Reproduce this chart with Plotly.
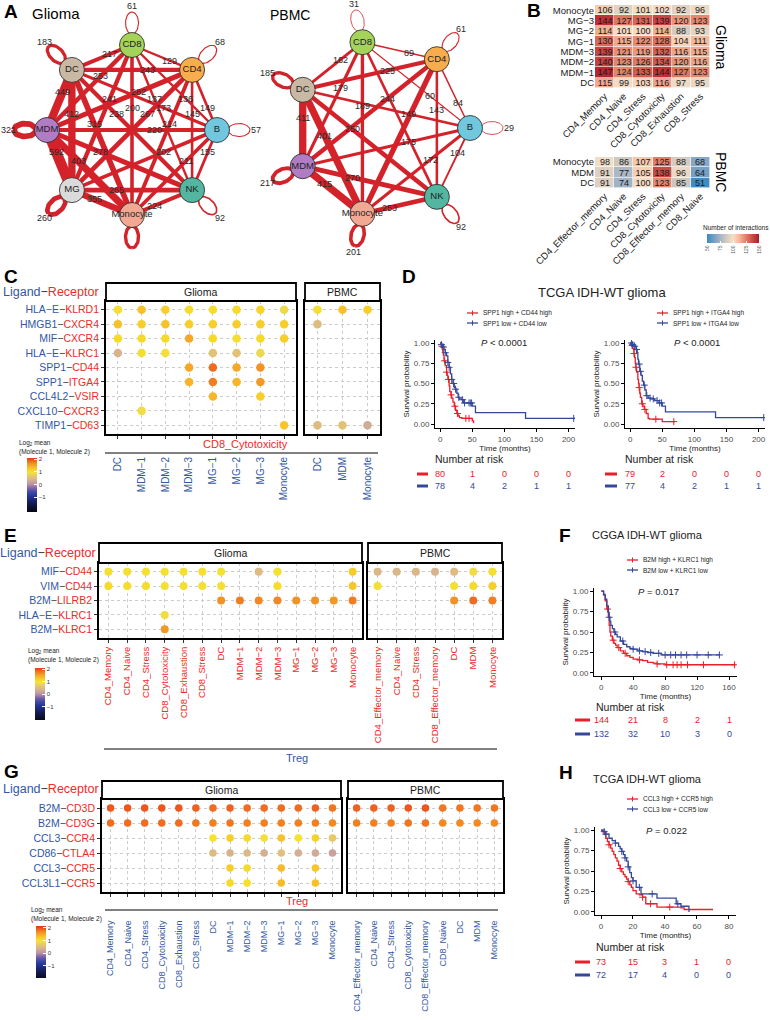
import numpy as np
import plotly.graph_objects as go

W, H = 770, 1020
FONT = "Liberation Sans, Arial, sans-serif"
TXT_BLUE = "#3157a6"
TXT_RED = "#ee2b24"
EDGE_RED = "#d3222a"
KM_RED = "#e8202a"
KM_BLUE = "#34489a"
N = None

# ======================= DATA =======================
# (A) interaction networks
glioma_nodes = ["CD8", "CD4", "B", "NK", "Monocyte", "MG", "MDM", "DC"]
glioma_edge_src = ["CD8", "CD4", "CD4", "B", "CD4", "CD8", "CD8", "B", "DC", "DC", "CD8", "DC", "CD4", "CD8",
                   "CD4", "B", "CD4", "DC", "B", "MDM", "MDM", "B", "B", "MDM", "B", "MG", "MG", "Monocyte"]
glioma_edge_tgt = ["DC", "CD8", "DC", "DC", "MDM", "MG", "NK", "CD4", "MDM", "MG", "Monocyte", "NK", "MG", "MDM",
                   "Monocyte", "CD8", "NK", "Monocyte", "MDM", "MG", "NK", "MG", "NK", "Monocyte", "Monocyte", "NK",
                   "Monocyte", "NK"]
glioma_edge_n = [217, 129, 243, 173, 282, 241, 137, 149, 449, 412, 200, 238, 267, 253,
                 214, 136, 145, 315, 220, 592, 278, 202, 155, 403, 211, 265, 355, 224]
glioma_edge_show = [True] * 28
glioma_self_n = [61, 68, 57, 92, 190, 260, 321, 183]
glioma_self_show = [True, True, True, True, False, True, True, True]

pbmc_nodes = ["CD8", "CD4", "B", "NK", "Monocyte", "MDM", "DC"]
pbmc_edge_src = ["CD8", "CD4", "CD4", "CD8", "CD4", "B", "B", "CD8", "CD4", "B", "DC", "DC", "DC", "B", "B", "B",
                 "MDM", "MDM", "Monocyte", "CD8", "CD4"]
pbmc_edge_tgt = ["DC", "CD8", "DC", "MDM", "MDM", "CD8", "CD4", "Monocyte", "NK", "DC", "MDM", "Monocyte", "NK",
                 "MDM", "Monocyte", "NK", "NK", "Monocyte", "NK", "NK", "Monocyte"]
pbmc_edge_n = [162, 89, 225, 179, 244, 60, 84, 189, 143, 149, 411, 401, 250, 175, 172, 104, 270, 415, 253, 150, 300]
pbmc_edge_show = [True] * 19 + [False, False]
pbmc_self_n = [31, 61, 29, 92, 201, 217, 185]
pbmc_self_show = [True] * 7

node_color = {"CD8": "#a4d35a", "CD4": "#f8ac4d", "B": "#70c7de", "NK": "#52b6a0",
              "Monocyte": "#f2a893", "MG": "#dadada", "MDM": "#b07dc4", "DC": "#c8b8a4"}

# (B) heatmaps: number of interactions
hm_glioma_rows = ["Monocyte", "MG−3", "MG−2", "MG−1", "MDM−3", "MDM−2", "MDM−1", "DC"]
hm_glioma_cols = ["CD4_Memory", "CD4_Naive", "CD4_Stress", "CD8_Cytotoxicity", "CD8_Exhaustion", "CD8_Stress"]
hm_glioma = [
    [106, 92, 101, 102, 92, 96],
    [144, 127, 131, 139, 120, 123],
    [114, 101, 100, 114, 88, 93],
    [130, 115, 122, 128, 104, 111],
    [139, 121, 119, 132, 116, 115],
    [140, 123, 126, 134, 120, 116],
    [147, 124, 133, 144, 127, 123],
    [115, 99, 103, 116, 97, 95],
]
hm_pbmc_rows = ["Monocyte", "MDM", "DC"]
hm_pbmc_cols = ["CD4_Effector_memory", "CD4_Naive", "CD4_Stress", "CD8_Cytotoxicity", "CD8_Effector_memory", "CD8_Naive"]
hm_pbmc = [
    [98, 86, 107, 125, 88, 68],
    [91, 77, 105, 138, 96, 64],
    [91, 74, 100, 123, 85, 51],
]

# (C) dot plot, receptor cell CD8_Cytotoxicity
c_lig = ["HLA−E", "HMGB1", "MIF", "HLA−E", "SPP1", "SPP1", "CCL4L2", "CXCL10", "TIMP1"]
c_rec = ["KLRD1", "CXCR4", "CXCR4", "KLRC1", "CD44", "ITGA4", "VSIR", "CXCR3", "CD63"]
c_glioma_cols = ["DC", "MDM−1", "MDM−2", "MDM−3", "MG−1", "MG−2", "MG−3", "Monocyte"]
c_pbmc_cols = ["DC", "MDM", "Monocyte"]
c_glioma = [
    [1.0, 1.3, 1.2, 1.05, 1.05, 1.1, 1.15, 0.85],
    [1.3, 1.2, 1.3, 1.2, 1.2, 1.2, 1.2, 1.2],
    [1.1, 1.1, 1.1, 1.5, 1.1, 1.0, 1.1, 1.2],
    [0.4, 1.0, 0.95, N, 0.6, 0.6, 0.85, N],
    [N, N, N, 1.5, 1.85, 1.5, 1.65, N],
    [N, N, N, 1.4, 1.75, 1.4, 1.6, N],
    [N, N, N, N, 1.4, N, 1.2, N],
    [N, 0.9, N, N, N, N, N, N],
    [N, N, N, N, N, N, N, 1.25],
]
c_pbmc = [
    [1.0, 1.3, 1.2],
    [0.5, N, N],
    [N, N, N],
    [N, N, N],
    [N, N, N],
    [N, N, N],
    [N, N, N],
    [N, N, N],
    [0.5, 0.6, 0.3],
]

# (E) dot plot, ligand cell Treg
e_lig = ["MIF", "VIM", "B2M", "HLA−E", "B2M"]
e_rec = ["CD44", "CD44", "LILRB2", "KLRC1", "KLRC1"]
e_glioma_cols = ["CD4_Memory", "CD4_Naive", "CD4_Stress", "CD8_Cytotoxicity", "CD8_Exhaustion", "CD8_Stress", "DC",
                 "MDM−1", "MDM−2", "MDM−3", "MG−1", "MG−2", "MG−3", "Monocyte"]
e_pbmc_cols = ["CD4_Effector_memory", "CD4_Naive", "CD4_Stress", "CD8_Effector_memory", "DC", "MDM", "Monocyte"]
e_glioma = [
    [1.0, 1.0, 1.0, 1.0, 1.0, 1.0, 0.95, N, 0.5, 1.0, N, N, N, 1.2],
    [1.1, 1.05, 1.05, 1.0, 1.0, 1.0, 1.0, N, N, 1.05, N, N, N, 1.25],
    [N, N, N, N, N, N, 1.65, 1.75, 1.7, 1.7, 1.65, 1.65, 1.6, 1.75],
    [N, N, N, 0.9, N, N, N, N, N, N, N, N, N, N],
    [N, N, N, 1.6, N, N, N, N, N, N, N, N, N, N],
]
e_pbmc = [
    [0.45, 0.45, 0.45, 0.4, 0.5, 0.9, 1.0],
    [1.0, N, N, N, 1.0, 1.1, 1.2],
    [N, N, N, N, 1.65, 1.85, 1.75],
    [N, N, N, N, N, N, N],
    [N, N, N, N, N, N, N],
]

# (G) dot plot, receptor cell Treg
g_lig = ["B2M", "B2M", "CCL3", "CD86", "CCL3", "CCL3L1"]
g_rec = ["CD3D", "CD3G", "CCR4", "CTLA4", "CCR5", "CCR5"]
g_glioma_cols = ["CD4_Memory", "CD4_Naive", "CD4_Stress", "CD8_Cytotoxicity", "CD8_Exhaustion", "CD8_Stress", "DC",
                 "MDM−1", "MDM−2", "MDM−3", "MG−1", "MG−2", "MG−3", "Monocyte"]
g_pbmc_cols = ["CD4_Effector_memory", "CD4_Naive", "CD4_Stress", "CD8_Cytotoxicity", "CD8_Effector_memory",
               "CD8_Naive", "DC", "MDM", "Monocyte"]
g_glioma = [
    [1.95, 1.95, 1.95, 1.95, 1.95, 1.9, 1.85, 1.9, 1.85, 1.85, 1.85, 1.85, 1.9, 1.8],
    [1.85, 1.85, 1.85, 1.85, 1.85, 1.8, 1.75, 1.8, 1.75, 1.75, 1.75, 1.75, 1.75, 1.7],
    [N, N, N, N, N, N, 1.0, 1.2, 1.1, 0.95, 1.3, 1.0, 1.15, 0.7],
    [N, N, N, N, N, N, 0.5, 0.4, 0.45, 0.35, 0.55, 0.35, 0.3, 0.2],
    [N, N, N, N, N, N, N, 1.2, 1.1, N, 1.35, N, 1.25, N],
    [N, N, N, N, N, N, N, 1.1, 1.05, N, 1.35, N, 1.3, N],
]
g_pbmc = [
    [1.9, 1.9, 1.9, 1.95, 1.95, 1.8, 1.8, 1.8, 1.8],
    [1.75, 1.75, 1.75, 1.8, 1.8, 1.7, 1.7, 1.7, 1.7],
    [N, N, N, N, N, N, N, N, N],
    [N, N, N, N, N, N, N, N, N],
    [N, N, N, N, N, N, N, N, N],
    [N, N, N, N, N, N, N, N, N],
]

# (D, F, H) Kaplan-Meier curves: step times (months) and survival
d1_red_t = [0, 2, 4, 5, 6, 8, 10, 11, 12, 14, 15, 17, 18, 20, 22, 24, 26, 28, 30, 34, 50, 52]
d1_red_s = [1.0, 0.96, 0.90, 0.85, 0.78, 0.72, 0.64, 0.60, 0.55, 0.47, 0.40, 0.36, 0.32, 0.27, 0.22, 0.17, 0.13, 0.10, 0.08, 0.07, 0.04, 0.01]
d1_red_cens = [3, 7, 10, 13, 17, 23, 27, 40, 45]
d1_blue_t = [0, 2, 4, 6, 8, 10, 12, 14, 16, 18, 20, 22, 24, 26, 28, 30, 33, 36, 50, 55, 133, 210]
d1_blue_s = [1.0, 0.98, 0.95, 0.92, 0.88, 0.84, 0.76, 0.70, 0.62, 0.55, 0.50, 0.45, 0.43, 0.38, 0.33, 0.31, 0.30, 0.26, 0.22, 0.14, 0.07, 0.07]
d1_blue_cens = [2, 5, 8, 12, 14, 18, 21, 24, 29, 35, 38, 45, 47, 49, 208]
d1_risk_t = [0, 50, 100, 150, 200]
d1_risk_red = [80, 1, 0, 0, 0]
d1_risk_blue = [78, 4, 2, 1, 1]

d2_red_t = [0, 2, 4, 6, 7, 8, 9, 10, 12, 13, 14, 15, 16, 18, 20, 22, 25, 28, 30, 50, 70]
d2_red_s = [1.0, 0.97, 0.93, 0.87, 0.82, 0.75, 0.70, 0.64, 0.55, 0.50, 0.45, 0.38, 0.33, 0.25, 0.22, 0.18, 0.13, 0.07, 0.06, 0.03, 0.03]
d2_red_cens = [3, 6, 9, 14, 19, 23, 40, 68]
d2_blue_t = [0, 3, 6, 9, 11, 12, 13, 15, 17, 19, 21, 23, 25, 28, 32, 38, 45, 50, 55, 133, 210]
d2_blue_s = [1.0, 0.98, 0.96, 0.92, 0.88, 0.80, 0.74, 0.65, 0.60, 0.53, 0.48, 0.42, 0.35, 0.32, 0.31, 0.29, 0.26, 0.22, 0.15, 0.08, 0.08]
d2_blue_cens = [2, 4, 7, 10, 14, 16, 22, 26, 31, 36, 42, 46, 49, 208]
d2_risk_t = [0, 50, 100, 150, 200]
d2_risk_red = [79, 2, 0, 0, 0]
d2_risk_blue = [77, 4, 2, 1, 1]

f_red_t = [0, 3, 5, 7, 9, 10, 11, 12, 14, 16, 18, 20, 24, 28, 32, 36, 40, 46, 52, 58, 65, 70, 80, 168]
f_red_s = [1.0, 0.95, 0.88, 0.78, 0.68, 0.58, 0.50, 0.45, 0.40, 0.36, 0.34, 0.31, 0.27, 0.24, 0.21, 0.19, 0.17, 0.16, 0.15, 0.13, 0.12, 0.11, 0.10, 0.10]
f_red_cens = [8, 15, 22, 30, 48, 70, 82, 90, 95, 100, 108, 128, 167]
f_blue_t = [0, 3, 5, 7, 9, 10, 11, 12, 14, 16, 18, 20, 24, 28, 32, 36, 40, 46, 52, 58, 65, 75, 148]
f_blue_s = [1.0, 0.96, 0.90, 0.82, 0.74, 0.68, 0.63, 0.58, 0.54, 0.50, 0.47, 0.44, 0.39, 0.35, 0.32, 0.30, 0.29, 0.27, 0.26, 0.25, 0.24, 0.22, 0.22]
f_blue_cens = [10, 17, 27, 40, 48, 55, 62, 72, 80, 87, 93, 100, 107, 120, 134, 148]
f_risk_t = [0, 40, 80, 120, 160]
f_risk_red = [144, 21, 8, 2, 1]
f_risk_blue = [132, 32, 10, 3, 0]

h_red_t = [0, 1, 2, 3, 4, 5, 6, 7, 8, 9, 10, 11, 12, 13, 14, 15, 16, 17, 18, 19, 20, 22, 24, 26, 28, 35, 50, 52, 70]
h_red_s = [1.0, 0.98, 0.95, 0.90, 0.86, 0.82, 0.78, 0.74, 0.70, 0.66, 0.62, 0.57, 0.53, 0.49, 0.46, 0.43, 0.40, 0.37, 0.33, 0.30, 0.26, 0.22, 0.21, 0.18, 0.10, 0.06, 0.05, 0.03, 0.03]
h_red_cens = [5, 12, 17, 26, 31, 43]
h_blue_t = [0, 2, 3, 5, 7, 9, 11, 12, 13, 14, 15, 16, 17, 18, 19, 20, 22, 25, 35, 47, 50, 55]
h_blue_s = [1.0, 0.98, 0.95, 0.90, 0.87, 0.84, 0.80, 0.77, 0.74, 0.70, 0.66, 0.62, 0.55, 0.48, 0.42, 0.38, 0.30, 0.22, 0.17, 0.10, 0.07, 0.0]
h_blue_cens = [2, 3, 9, 13, 15, 17, 20, 24, 32, 48]
h_risk_t = [0, 20, 40, 60, 80]
h_risk_red = [73, 15, 3, 1, 0]
h_risk_blue = [72, 17, 4, 0, 0]

# colour scales
dot_anchor_v = [-2.2, -1.5, -1.0, -0.6, -0.3, 0.0, 0.4, 0.8, 1.0, 1.4, 1.7, 2.2]
dot_anchor_c = ["#050510", "#141a4a", "#1f2f8f", "#3a4aa8", "#7a5fa6", "#b990a8", "#d8b48e", "#ecd25a",
                "#f6e629", "#f7b52a", "#f28a22", "#e8231c"]
hm_anchor_v = [50, 62, 75, 88, 100, 112, 125, 137, 150]
hm_anchor_c = ["#3b8bc2", "#6d9cc4", "#a4b4c6", "#d6cbc0", "#f6e0c8", "#f2b89a", "#e07f68", "#cc4c48", "#b2182b"]

# ======================= HELPERS =======================
fig = go.Figure()
axes = {}
annotations = []
shapes = []
LABEL_T = 0.37  # fraction along an edge where its count label sits


def fx(px):
    return px / W


def fy(py):
    return 1 - py / H


def xd(a, b):
    return [a / W, b / W]


def yd(top, bot):
    return [1 - bot / H, 1 - top / H]


def ref(i, l):
    return l if i == 1 else f"{l}{i}"


def set_axes(i, xdom, ydom, xkw, ykw):
    axes["xaxis" if i == 1 else f"xaxis{i}"] = dict(domain=xdom, anchor=ref(i, "y"), automargin=False, **xkw)
    axes["yaxis" if i == 1 else f"yaxis{i}"] = dict(domain=ydom, anchor=ref(i, "x"), automargin=False, **ykw)


def ann(px, py, text, size, color="black", xanchor="center", yanchor="middle", angle=0):
    annotations.append(dict(x=fx(px), y=fy(py), xref="paper", yref="paper", text=text, showarrow=False,
                            font=dict(size=size, color=color, family=FONT), xanchor=xanchor, yanchor=yanchor,
                            textangle=angle))


def hline(x0, x1, y, color="black", width=1):
    shapes.append(dict(type="line", xref="paper", yref="paper", x0=fx(x0), x1=fx(x1), y0=fy(y), y1=fy(y),
                       line=dict(color=color, width=width)))


def hexrgb(h):
    h = h.lstrip("#")
    return [int(h[k:k + 2], 16) for k in (0, 2, 4)]


def build_scale(vals, cols, lo, hi, n=30):
    rgb = np.array([hexrgb(c) for c in cols], float)
    out = []
    for k in range(n):
        v = lo + (hi - lo) * k / (n - 1)
        c = [int(round(np.interp(v, vals, rgb[:, j]))) for j in range(3)]
        out.append([k / (n - 1), f"rgb({c[0]},{c[1]},{c[2]})"])
    return out


HIDDEN = dict(visible=False, showgrid=False, zeroline=False, fixedrange=True)


# ======================= (A) networks =======================
def network(i, nodes, cx, cy, r, start, src, tgt, nn, show, self_n, self_show, xr, yr, xdom, ydom):
    xs, ys = ref(i, "x"), ref(i, "y")
    k = len(nodes)
    ang = {nd: np.deg2rad(start - 360.0 * j / k) for j, nd in enumerate(nodes)}
    pos = {nd: (cx + r * np.cos(a), cy - r * np.sin(a)) for nd, a in ang.items()}
    for s, t, w, sh in zip(src, tgt, nn, show):
        (x0, y0), (x1, y1) = pos[s], pos[t]
        fig.add_trace(go.Scatter(x=[x0, x1], y=[y0, y1], mode="lines", line=dict(color=EDGE_RED, width=w / 56),
                                 xaxis=xs, yaxis=ys, hoverinfo="skip", showlegend=False))
        if sh:
            annotations.append(dict(x=x0 + LABEL_T * (x1 - x0), y=y0 + LABEL_T * (y1 - y0), xref=xs, yref=ys,
                                    text=str(w), showarrow=False, xanchor="center", yanchor="middle",
                                    font=dict(size=9, color="#2a2a2a", family=FONT)))
    th = np.linspace(0, 2 * np.pi, 60)
    for nd, w, sh in zip(nodes, self_n, self_show):
        a = ang[nd]
        ux, uy = np.cos(a), -np.sin(a)
        vx, vy = -uy, ux
        x0, y0 = pos[nd]
        lx = x0 + (22 + 11 * np.cos(th)) * ux + 6.5 * np.sin(th) * vx
        ly = y0 + (22 + 11 * np.cos(th)) * uy + 6.5 * np.sin(th) * vy
        fig.add_trace(go.Scatter(x=lx, y=ly, mode="lines", line=dict(color=EDGE_RED, width=max(w / 56, 0.8)),
                                 xaxis=xs, yaxis=ys, hoverinfo="skip", showlegend=False))
        if sh:
            annotations.append(dict(x=x0 + 39 * ux, y=y0 + 39 * uy, xref=xs, yref=ys, text=str(w),
                                    showarrow=False, xanchor="center", yanchor="middle",
                                    font=dict(size=9, color="#2a2a2a", family=FONT)))
    fig.add_trace(go.Scatter(x=[pos[n][0] for n in nodes], y=[pos[n][1] for n in nodes], mode="markers+text",
                             text=nodes, textposition="middle center",
                             textfont=dict(size=9.5, color="#222", family=FONT),
                             marker=dict(size=25, color=[node_color[n] for n in nodes],
                                         line=dict(color="#222", width=0.8)),
                             xaxis=xs, yaxis=ys, hoverinfo="skip", showlegend=False))
    set_axes(i, xdom, ydom, dict(range=xr, **HIDDEN), dict(range=yr, **HIDDEN))


network(1, glioma_nodes, 132, 130, 85, 90, glioma_edge_src, glioma_edge_tgt, glioma_edge_n, glioma_edge_show,
        glioma_self_n, glioma_self_show, [0, 260], [280, 0], xd(0, 260), yd(0, 280))
network(2, pbmc_nodes, 382, 128, 88, 90 + 360 / 28, pbmc_edge_src, pbmc_edge_tgt, pbmc_edge_n, pbmc_edge_show,
        pbmc_self_n, pbmc_self_show, [255, 520], [280, 0], xd(255, 520), yd(0, 280))
ann(2, 12, "<b>A</b>", 19, xanchor="left")
ann(30, 14, "Glioma", 15, xanchor="left")
ann(268, 15, "PBMC", 14, xanchor="left")

# ======================= (B) heatmaps =======================
hm_common = dict(coloraxis="coloraxis4", texttemplate="%{z}", textfont=dict(size=9, color="#1a1a1a", family=FONT),
                 xgap=0.6, ygap=0.6, hoverinfo="skip")
fig.add_trace(go.Heatmap(z=hm_glioma, x=hm_glioma_cols, y=hm_glioma_rows, xaxis="x3", yaxis="y3", **hm_common))
fig.add_trace(go.Heatmap(z=hm_pbmc, x=hm_pbmc_cols, y=hm_pbmc_rows, xaxis="x4", yaxis="y4", **hm_common))


def hm_axes(i, cols, rows, xdom, ydom):
    set_axes(i, xdom, ydom,
             dict(tickmode="array", tickvals=cols, ticktext=cols, tickangle=-45,
                  tickfont=dict(size=9.5, color="#1a1a1a"), ticks="", showgrid=False, zeroline=False,
                  showline=False, fixedrange=True),
             dict(tickmode="array", tickvals=rows, ticktext=rows, autorange="reversed",
                  tickfont=dict(size=9.5, color="#1a1a1a"), ticks="", showgrid=False, zeroline=False,
                  showline=False, fixedrange=True))


hm_axes(3, hm_glioma_cols, hm_glioma_rows, xd(595, 710), yd(5, 88))
hm_axes(4, hm_pbmc_cols, hm_pbmc_rows, xd(595, 710), yd(157, 188))
ann(525, 11, "<b>B</b>", 19, xanchor="left")
ann(721, 47, "Glioma", 14, angle=90)
ann(721, 172, "PBMC", 14, angle=90)
ann(736, 228, "Number of interactions", 6.5, color="#222")


# ======================= dot plots =======================
def lr_label(lig, rec):
    return (f"<span style='color:{TXT_BLUE}'>{lig}</span><span style='color:#333'>−</span>"
            f"<span style='color:{TXT_RED}'>{rec}</span>")


def dotplot(i, cols, lig, rec, mat, xdom, ydom, caxis, msize, show_y, tickcolor, xfont, standoff):
    xs, ys = ref(i, "x"), ref(i, "y")
    X, Y, C = [], [], []
    for r, row in enumerate(mat):
        for c, v in enumerate(row):
            if v is not None:
                X.append(c)
                Y.append(r)
                C.append(v)
    fig.add_trace(go.Scatter(x=X, y=Y, mode="markers",
                             marker=dict(size=msize, color=C, coloraxis=caxis, line=dict(width=0)),
                             xaxis=xs, yaxis=ys, hoverinfo="skip", showlegend=False))
    nr = len(lig)
    grid = dict(showgrid=True, griddash="3px,3px", gridcolor="#cccccc", gridwidth=0.6, zeroline=False,
                showline=True, mirror=True, linecolor="black", linewidth=1.8, fixedrange=True)
    xkw = dict(range=[-0.5, len(cols) - 0.5], tickmode="array", tickvals=list(range(len(cols))), ticktext=cols,
               tickangle=-90, tickfont=dict(size=xfont, color=tickcolor, family=FONT), ticks="outside",
               ticklen=3, tickcolor="#333", ticklabelstandoff=standoff, **grid)
    ykw = dict(range=[nr - 1 + 0.6, -0.6], tickmode="array", tickvals=list(range(nr)),
               ticktext=[lr_label(a, b) for a, b in zip(lig, rec)], showticklabels=show_y,
               tickfont=dict(size=10.5, family=FONT), ticks="outside" if show_y else "", ticklen=3,
               tickcolor="#333", **grid)
    set_axes(i, xdom, ydom, xkw, ykw)


def strip(x0, x1, y0, y1, text):
    shapes.append(dict(type="rect", xref="paper", yref="paper", x0=fx(x0), x1=fx(x1), y0=fy(y1), y1=fy(y0),
                       line=dict(color="black", width=1.8), fillcolor="white"))
    ann((x0 + x1) / 2, (y0 + y1) / 2, text, 10.5, color="#1a1a1a")


def lr_header(xr, y):
    ann(xr, y, f"<span style='color:{TXT_BLUE}'>Ligand</span><span style='color:#333'>−</span>"
               f"<span style='color:{TXT_RED}'>Receptor</span>", 12.5, xanchor="right")


def dot_legend(x, ytitle):
    ann(x, ytitle, "Log<sub>2</sub> mean", 6.5, color="#222", xanchor="left")
    ann(x, ytitle + 9, "(Molecule 1, Molecule 2)", 6.5, color="#222", xanchor="left")


def dot_colorbar(lo, hi, x, top, bot):
    return dict(cmin=lo, cmax=hi, colorscale=build_scale(dot_anchor_v, dot_anchor_c, lo, hi),
                colorbar=dict(x=fx(x), xanchor="left", y=fy(top), yanchor="top", len=(bot - top) / H,
                              lenmode="fraction", thickness=10, thicknessmode="pixels", xpad=0, ypad=0,
                              outlinewidth=0, tickvals=[-1, 0, 1, 2], ticktext=["−1", "0", "1", "2"],
                              tickfont=dict(size=6, color="#333"), ticks="inside", ticklen=3,
                              tickcolor="white"))


# (C)
dotplot(5, c_glioma_cols, c_lig, c_rec, c_glioma, xd(106, 296), yd(301, 434), "coloraxis", 8.5, True, TXT_BLUE, 10, 14)
dotplot(6, c_pbmc_cols, c_lig, c_rec, c_pbmc, xd(305, 380), yd(301, 434), "coloraxis", 8.5, False, TXT_BLUE, 10, 14)
strip(106, 296, 283, 301, "Glioma")
strip(305, 380, 283, 301, "PBMC")
lr_header(101, 292)
ann(2, 277, "<b>C</b>", 19, xanchor="left")
ann(245, 444, "CD8_Cytotoxicity", 11, color=TXT_RED)
hline(105, 378, 453)
dot_legend(17, 443)

# (E)
dotplot(9, e_glioma_cols, e_lig, e_rec, e_glioma, xd(99, 362), yd(563, 638), "coloraxis2", 8, True, TXT_RED, 9.5, 0)
dotplot(10, e_pbmc_cols, e_lig, e_rec, e_pbmc, xd(368, 502), yd(563, 638), "coloraxis2", 8, False, TXT_RED, 9.5, 0)
strip(99, 362, 543, 563, "Glioma")
strip(368, 502, 543, 563, "PBMC")
lr_header(98, 553)
ann(2, 535, "<b>E</b>", 19, xanchor="left")
hline(104, 497, 749)
ann(297, 758, "Treg", 11, color=TXT_BLUE)
dot_legend(26, 651)

# (G)
dotplot(12, g_glioma_cols, g_lig, g_rec, g_glioma, xd(102, 341), yd(799, 892), "coloraxis3", 7.5, True, TXT_BLUE, 9, 20)
dotplot(13, g_pbmc_cols, g_lig, g_rec, g_pbmc, xd(348, 503), yd(799, 892), "coloraxis3", 7.5, False, TXT_BLUE, 9, 20)
strip(102, 341, 781, 799, "Glioma")
strip(348, 503, 781, 799, "PBMC")
lr_header(101, 789)
ann(2, 771, "<b>G</b>", 19, xanchor="left")
ann(297, 901, "Treg", 11, color=TXT_RED)
hline(105, 498, 910)
dot_legend(29, 910)


# ======================= KM panels =======================
def step_at(ts, ss, t):
    idx = np.searchsorted(np.array(ts, float), t, side="right") - 1
    return np.array(ss, float)[idx]


def km(i, xdom, ydom, xr, yr, xticks, curves, risk_t, risk_red, risk_blue, pval_txt, pval_x,
       leg_x, leg_y, leg_labels, risk_title_x, risk_title_y, risk_rows_y, dash_x):
    xs, ys = ref(i, "x"), ref(i, "y")
    for (t, s, cens), col in zip(curves, [KM_RED, KM_BLUE]):
        fig.add_trace(go.Scatter(x=t, y=s, mode="lines", line=dict(color=col, width=1.3, shape="hv"),
                                 xaxis=xs, yaxis=ys, hoverinfo="skip", showlegend=False))
        fig.add_trace(go.Scatter(x=cens, y=step_at(t, s, cens), mode="markers",
                                 marker=dict(symbol="cross-thin", size=5, line=dict(color=col, width=1)),
                                 xaxis=xs, yaxis=ys, hoverinfo="skip", showlegend=False))
    axl = dict(showline=True, linecolor="black", linewidth=0.9, ticks="outside", ticklen=3, tickcolor="black",
               showgrid=False, zeroline=False, tickfont=dict(size=8, color="#4d4d4d", family=FONT),
               fixedrange=True)
    set_axes(i, xdom, ydom,
             dict(range=xr, tickvals=xticks, title=dict(text="Time (months)", font=dict(size=8, color="#222"),
                                                        standoff=1), **axl),
             dict(range=yr, tickvals=[0, 0.25, 0.5, 0.75, 1.0], tickformat=".2f",
                  title=dict(text="Survival probability", font=dict(size=8, color="#222"), standoff=3), **axl))
    annotations.append(dict(x=pval_x, y=1.0, xref=xs, yref=ys, text=pval_txt, showarrow=False,
                            xanchor="center", yanchor="middle", font=dict(size=9.5, color="#222", family=FONT)))
    for k, (lab, col) in enumerate(zip(leg_labels, [KM_RED, KM_BLUE])):
        yy = leg_y + 10 * k
        hline(leg_x, leg_x + 11, yy, color=col, width=1.3)
        shapes.append(dict(type="line", xref="paper", yref="paper", x0=fx(leg_x + 5.5), x1=fx(leg_x + 5.5),
                           y0=fy(yy - 2.5), y1=fy(yy + 2.5), line=dict(color=col, width=1)))
        ann(leg_x + 14, yy, lab, 6.5, color="#222", xanchor="left")
    ann(risk_title_x, risk_title_y, "Number at risk", 10.5, color="#222", xanchor="left")
    for vals, col, yy in zip([risk_red, risk_blue], [KM_RED, KM_BLUE], risk_rows_y):
        hline(dash_x[0], dash_x[1], yy, color=col, width=3)
        for t, v in zip(risk_t, vals):
            annotations.append(dict(x=t, y=fy(yy), xref=xs, yref="paper", text=str(v), showarrow=False,
                                    xanchor="center", yanchor="middle",
                                    font=dict(size=9, color=col, family=FONT)))


d_y = [-0.049, 1.037]
km(7, xd(435, 575), yd(340, 428), [-8, 210], d_y, [0, 50, 100, 150, 200],
   [(d1_red_t, d1_red_s, d1_red_cens), (d1_blue_t, d1_blue_s, d1_blue_cens)],
   d1_risk_t, d1_risk_red, d1_risk_blue, "<i>P</i> < 0.0001", 100,
   467, 313, ["SPP1 high + CD44 high", "SPP1 low + CD44 low"], 433, 459, [474, 486], [417, 428])
km(8, xd(625, 765), yd(340, 428), [-8, 210], d_y, [0, 50, 100, 150, 200],
   [(d2_red_t, d2_red_s, d2_red_cens), (d2_blue_t, d2_blue_s, d2_blue_cens)],
   d2_risk_t, d2_risk_red, d2_risk_blue, "<i>P</i> < 0.0001", 104,
   657, 313, ["SPP1 high + ITGA4 high", "SPP1 low + ITGA4 low"], 623, 459, [474, 486], [605, 617])
ann(400, 277, "<b>D</b>", 19, xanchor="left")
ann(602, 292, "TCGA IDH-WT glioma", 13, color="#222")

km(11, xd(594, 737), yd(588, 676), [-9, 170], [-0.037, 1.037], [0, 40, 80, 120, 160],
   [(f_red_t, f_red_s, f_red_cens), (f_blue_t, f_blue_s, f_blue_cens)],
   f_risk_t, f_risk_red, f_risk_blue, "<i>P</i> = 0.017", 72,
   627, 560, ["B2M high + KLRC1 high", "B2M low + KLRC1 low"], 594, 707, [720, 734], [575, 590])
ann(557, 535, "<b>F</b>", 19, xanchor="left")
ann(647, 535, "CGGA IDH-WT glioma", 11, color="#222")

km(14, xd(595, 736), yd(827, 915), [-3.75, 84.4], [-0.037, 1.037], [0, 20, 40, 60, 80],
   [(h_red_t, h_red_s, h_red_cens), (h_blue_t, h_blue_s, h_blue_cens)],
   h_risk_t, h_risk_red, h_risk_blue, "<i>P</i> = 0.022", 41,
   627, 799, ["CCL3 high + CCR5 high", "CCL3 low + CCR5 low"], 594, 947, [962, 975], [575, 590])
ann(557, 772, "<b>H</b>", 19, xanchor="left")
ann(647, 779, "TCGA IDH-WT glioma", 11, color="#222")

# ======================= LAYOUT =======================
fig.update_layout(
    width=W, height=H, margin=dict(l=0, r=0, t=0, b=0, autoexpand=False), autosize=False,
    paper_bgcolor="white", plot_bgcolor="white", showlegend=False,
    font=dict(family=FONT, color="#222"),
    annotations=annotations, shapes=shapes,
    coloraxis=dot_colorbar(-2.15, 2.1, 27, 458, 512),
    coloraxis2=dot_colorbar(-2.05, 2.1, 35, 668, 720),
    coloraxis3=dot_colorbar(-1.95, 2.15, 36, 926, 978),
    coloraxis4=dict(cmin=50, cmax=150, colorscale=build_scale(hm_anchor_v, hm_anchor_c, 50, 150),
                    colorbar=dict(orientation="h", x=fx(707), xanchor="left", y=fy(234), yanchor="top",
                                  len=52 / W, lenmode="fraction", thickness=9, thicknessmode="pixels",
                                  xpad=0, ypad=0, outlinewidth=0, tickvals=[50, 75, 100, 125, 150],
                                  tickangle=-90, tickfont=dict(size=5, color="#555"), ticks="inside",
                                  ticklen=2, tickcolor="white")),
    **axes,
)

fig.write_html("out.html", config={"displayModeBar": False},
               post_script="document.body.style.margin='0px';document.body.style.overflow='hidden';")
